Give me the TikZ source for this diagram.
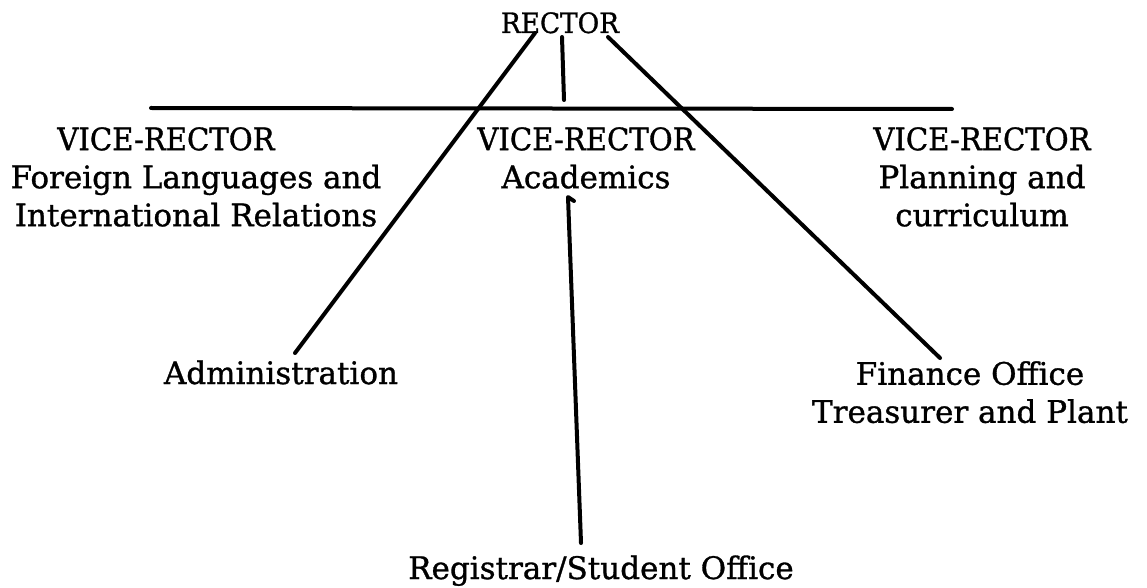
\documentclass[tikz,border=0pt]{standalone}
\usepackage{fontspec}
\setmainfont{DejaVu Serif}[FakeBold=1]
\newcommand{\vrtitle}{{\addfontfeature{FakeStretch=0.94}VICE-RECTOR}}
\begin{document}
\begin{tikzpicture}[x=1pt,y=-1pt,
  lbl/.style={inner sep=0pt, font=\fontsize{31}{38}\selectfont, align=center},
  conn/.style={line width=4pt, line cap=round, line join=round}]
\useasboundingbox (0,0) rectangle (1147,588);
% labels
\node[lbl, anchor=base, font=\fontsize{28}{34}\selectfont] (rector) at (560,33) {\addfontfeature{FakeStretch=0.94}RECTOR};
\node[lbl, anchor=north] (vrl) at (196,127) {\hspace*{-60pt}\vrtitle\\Foreign Languages and\\International Relations};
\node[lbl, anchor=north] (vrc) at (586,127) {\vrtitle\\Academics};
\node[lbl, anchor=north] (vrr) at (982,127) {\vrtitle\\Planning and\\curriculum};
\node[lbl, anchor=base] (admin) at (281,384) {Administration};
\node[lbl, anchor=north] (fin) at (970,361) {Finance Office\\Treasurer and Plant};
\node[lbl, anchor=base] (reg) at (601,579) {Registrar/Student Office};
% connector points
\coordinate (hl) at (151,108);
\coordinate (hr) at (952,109);
\coordinate (rv1) at (562,37);
\coordinate (rv2) at (564,100);
\coordinate (rl) at (535,33);
\coordinate (al) at (295,353);
\coordinate (rr) at (608,37);
\coordinate (fr) at (940,358);
\coordinate (hook) at (574,201);
\coordinate (ct) at (568,197);
\coordinate (cb) at (581,543);
% connectors
\draw[conn] (hl) -- (hr);
\draw[conn] (rv1) -- (rv2);
\draw[conn] (rl) -- (al);
\draw[conn] (rr) -- (fr);
\draw[conn] (hook) -- (ct) -- (cb);
\end{tikzpicture}
\end{document}
